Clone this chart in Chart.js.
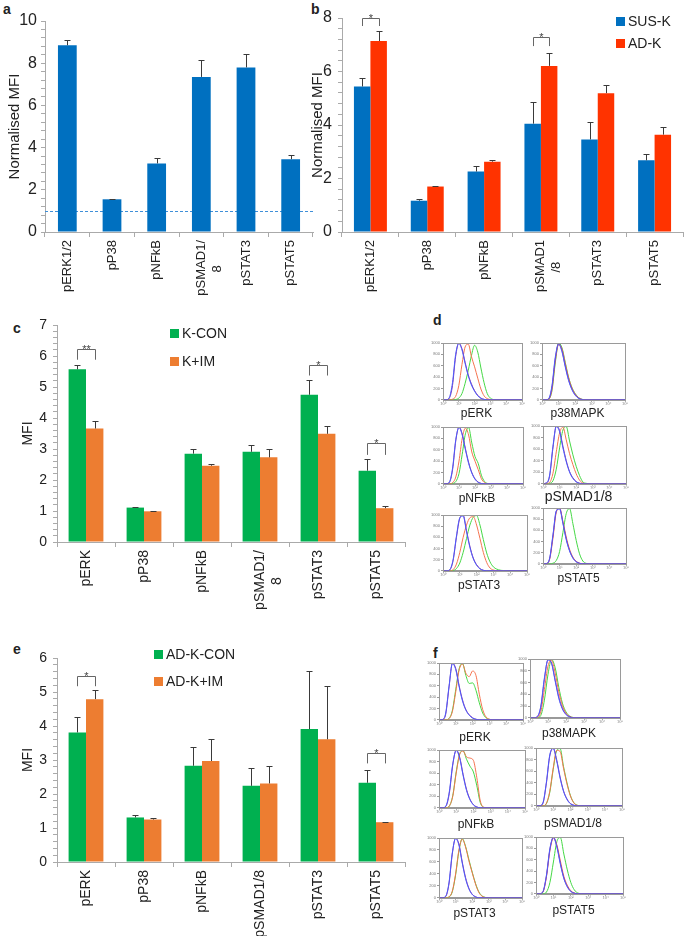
<!DOCTYPE html>
<html lang="en">
<head>
<meta charset="UTF-8">
<title>Phospho-signalling MFI</title>
<script src="https://cdn.jsdelivr.net/npm/chart.js"></script>
<style>
  body { margin: 0; background: #fff; }
  #page { position: relative; width: 685px; height: 936px; overflow: hidden;
          font-family: 'Liberation Sans', Arial, sans-serif; color: #222; }
  #page canvas { position: absolute; }
  .tag { position: absolute; font-weight: bold; font-size: 14px; line-height: 1; }
  .leg { position: absolute; height: 16px; display: flex; align-items: center;
         font-size: 14px; white-space: nowrap; }
  .leg i { display: inline-block; width: 9px; height: 9px; margin-right: 3px; }
</style>
</head>
<body>
<div id="page">
  <div class="tag" style="left:3px;top:2px">a</div>
  <div class="tag" style="left:311px;top:2px">b</div>
  <div class="tag" style="left:13px;top:321px">c</div>
  <div class="tag" style="left:433px;top:313px">d</div>
  <div class="tag" style="left:13px;top:642px">e</div>
  <div class="tag" style="left:433px;top:646px">f</div>
</div>

<script>
// panel a - normalised MFI, single series
const catsA = ['pERK1/2', 'pP38', 'pNFkB', ['pSMAD1/', '8       '], 'pSTAT3', 'pSTAT5'];
const normA = [8.85, 1.55, 3.25, 7.35, 7.80, 3.45];
const normAErr = [0.25, 0.03, 0.25, 0.80, 0.65, 0.20];
const baselineA = 1;

// panel b - SUS-K vs AD-K
const catsB = ['pERK1/2', 'pP38', 'pNFkB', ['pSMAD1', '/8      '], 'pSTAT3', 'pSTAT5'];
const susK = [5.44, 1.17, 2.26, 4.05, 3.46, 2.68];
const susKErr = [0.30, 0.05, 0.21, 0.80, 0.65, 0.25];
const adK = [7.14, 1.70, 2.63, 6.21, 5.19, 3.64];
const adKErr = [0.39, 0.03, 0.05, 0.47, 0.29, 0.30];
const starsB = [{ i: 0, top: 8.0, leg: 7.7, t: '*' }, { i: 3, top: 7.28, leg: 6.95, t: '*' }];

// panel c - K-CON vs K+IM
const catsC = ['pERK', 'pP38', 'pNFkB', ['pSMAD1/', '8       '], 'pSTAT3', 'pSTAT5'];
const kCon = [5.57, 1.11, 2.85, 2.91, 4.75, 2.30];
const kConErr = [0.14, 0.03, 0.16, 0.22, 0.47, 0.38];
const kIm = [3.66, 0.99, 2.46, 2.73, 3.49, 1.09];
const kImErr = [0.25, 0.02, 0.06, 0.26, 0.24, 0.06];
const starsC = [{ i: 0, top: 6.22, leg: 5.88, t: '**' }, { i: 4, top: 5.71, leg: 5.37, t: '*' }, { i: 5, top: 3.18, leg: 2.81, t: '*' }];

// panel e - AD-K-CON vs AD-K+IM
const catsE = ['pERK', 'pP38', 'pNFkB', 'pSMAD1/8', 'pSTAT3', 'pSTAT5'];
const adCon = [3.81, 1.31, 2.83, 2.24, 3.91, 2.33];
const adConErr = [0.45, 0.08, 0.55, 0.52, 1.71, 0.38];
const adIm = [4.79, 1.25, 2.97, 2.31, 3.61, 1.17];
const adImErr = [0.27, 0.04, 0.66, 0.51, 1.58, 0.02];
const starsE = [{ i: 0, top: 5.48, leg: 5.17, t: '*' }, { i: 5, top: 3.2, leg: 2.9, t: '*' }];

// flow histograms (d, f): x = log10 fluorescence, y = counts (0-1000)
const histX = [0, 0.2, 0.4, 0.6, 0.8, 1.0, 1.2, 1.4, 1.6, 1.8, 2.0, 2.2, 2.4, 2.6, 2.8, 3.0, 3.2, 3.6, 5];
const histTitles = ['pERK', 'p38MAPK', 'pNFkB', 'pSMAD1/8', 'pSTAT3', 'pSTAT5'];
// curves per histogram: [blue, purple, red, green]
const dERK = [
  [0, 0, 40, 300, 800, 990, 880, 640, 420, 260, 150, 70, 25, 6, 0, 0, 0, 0, 0],
  [0, 0, 30, 250, 760, 1000, 900, 660, 440, 280, 160, 80, 30, 8, 0, 0, 0, 0, 0],
  [0, 0, 0, 10, 60, 250, 620, 930, 980, 760, 580, 380, 190, 70, 20, 5, 0, 0, 0],
  [0, 0, 0, 0, 5, 30, 110, 290, 520, 780, 960, 840, 560, 300, 110, 30, 5, 0, 0]];
const dP38 = [
  [0, 0, 20, 250, 750, 980, 850, 580, 340, 180, 80, 25, 5, 0, 0, 0, 0, 0, 0],
  [0, 0, 15, 220, 720, 990, 870, 600, 360, 190, 90, 30, 6, 0, 0, 0, 0, 0, 0],
  [0, 0, 10, 180, 680, 970, 900, 640, 390, 210, 100, 35, 8, 0, 0, 0, 0, 0, 0],
  [0, 0, 10, 160, 650, 1000, 920, 660, 400, 220, 110, 40, 10, 0, 0, 0, 0, 0, 0]];
const dNFKB = [
  [0, 0, 30, 280, 780, 990, 860, 600, 360, 190, 80, 25, 5, 0, 0, 0, 0, 0, 0],
  [0, 0, 25, 250, 760, 1000, 880, 620, 380, 200, 90, 30, 6, 0, 0, 0, 0, 0, 0],
  [0, 0, 0, 20, 120, 400, 800, 980, 860, 560, 400, 250, 90, 20, 0, 0, 0, 0, 0],
  [0, 0, 0, 5, 40, 180, 520, 880, 990, 720, 480, 360, 150, 40, 5, 0, 0, 0, 0]];
const dSMAD = [
  [0, 10, 150, 650, 990, 900, 620, 380, 200, 90, 30, 5, 0, 0, 0, 0, 0, 0, 0],
  [0, 8, 130, 620, 1000, 920, 650, 400, 210, 100, 35, 6, 0, 0, 0, 0, 0, 0, 0],
  [0, 0, 20, 180, 550, 880, 980, 760, 520, 330, 170, 60, 10, 0, 0, 0, 0, 0, 0],
  [0, 0, 5, 50, 250, 620, 930, 990, 740, 500, 300, 140, 30, 5, 0, 0, 0, 0, 0]];
const dSTAT3 = [
  [0, 0, 20, 200, 620, 950, 980, 700, 420, 220, 100, 35, 8, 0, 0, 0, 0, 0, 0],
  [0, 0, 15, 180, 600, 940, 1000, 720, 440, 230, 110, 40, 10, 0, 0, 0, 0, 0, 0],
  [0, 0, 0, 20, 120, 330, 600, 820, 950, 970, 820, 580, 330, 150, 50, 15, 0, 0, 0],
  [0, 0, 0, 5, 40, 140, 330, 580, 820, 960, 990, 820, 560, 320, 160, 70, 30, 5, 0]];
const dSTAT5 = [
  [0, 5, 100, 520, 950, 980, 720, 430, 230, 100, 35, 8, 0, 0, 0, 0, 0, 0, 0],
  [0, 4, 90, 500, 940, 1000, 740, 450, 240, 110, 40, 10, 0, 0, 0, 0, 0, 0, 0],
  [0, 3, 80, 460, 920, 990, 760, 480, 260, 120, 45, 12, 0, 0, 0, 0, 0, 0, 0],
  [0, 0, 0, 10, 60, 220, 560, 900, 990, 720, 420, 180, 50, 8, 0, 0, 0, 0, 0]];
const fERK = [
  [0, 5, 120, 600, 990, 880, 580, 330, 170, 80, 30, 8, 0, 0, 0, 0, 0, 0, 0],
  [0, 4, 100, 580, 1000, 900, 600, 350, 180, 90, 35, 10, 0, 0, 0, 0, 0, 0, 0],
  [0, 0, 0, 20, 150, 500, 880, 980, 820, 760, 860, 780, 450, 180, 50, 10, 0, 0, 0],
  [0, 0, 0, 25, 170, 540, 900, 990, 780, 640, 650, 520, 300, 120, 35, 8, 0, 0, 0]];
const fP38 = [
  [0, 0, 20, 200, 680, 980, 920, 620, 330, 150, 55, 15, 0, 0, 0, 0, 0, 0, 0],
  [0, 0, 15, 180, 650, 990, 930, 640, 350, 160, 60, 18, 0, 0, 0, 0, 0, 0, 0],
  [0, 0, 5, 100, 480, 880, 980, 760, 440, 210, 80, 25, 3, 0, 0, 0, 0, 0, 0],
  [0, 0, 0, 40, 300, 740, 990, 850, 520, 250, 100, 30, 5, 0, 0, 0, 0, 0, 0]];
const fNFKB = [
  [0, 0, 30, 280, 760, 990, 860, 560, 300, 140, 50, 12, 0, 0, 0, 0, 0, 0, 0],
  [0, 0, 25, 250, 740, 1000, 880, 580, 320, 150, 55, 15, 0, 0, 0, 0, 0, 0, 0],
  [0, 0, 0, 30, 200, 600, 920, 980, 880, 860, 820, 520, 120, 10, 0, 0, 0, 0, 0],
  [0, 0, 0, 30, 210, 620, 930, 990, 840, 720, 620, 380, 90, 8, 0, 0, 0, 0, 0]];
const fSMAD = [
  [0, 0, 50, 400, 880, 990, 780, 480, 250, 110, 35, 8, 0, 0, 0, 0, 0, 0, 0],
  [0, 0, 40, 380, 860, 1000, 800, 500, 260, 120, 40, 10, 0, 0, 0, 0, 0, 0, 0],
  [0, 0, 0, 40, 250, 650, 960, 940, 650, 380, 170, 50, 8, 0, 0, 0, 0, 0, 0],
  [0, 0, 0, 35, 230, 630, 950, 990, 680, 400, 180, 55, 10, 0, 0, 0, 0, 0, 0]];
const fSTAT3 = [
  [0, 0, 25, 250, 750, 990, 880, 580, 320, 150, 55, 15, 0, 0, 0, 0, 0, 0, 0],
  [0, 0, 20, 230, 730, 1000, 900, 600, 340, 160, 60, 18, 0, 0, 0, 0, 0, 0, 0],
  [0, 0, 0, 15, 110, 400, 800, 980, 850, 620, 420, 230, 90, 25, 5, 0, 0, 0, 0],
  [0, 0, 0, 12, 100, 380, 780, 990, 860, 640, 430, 240, 100, 30, 6, 0, 0, 0, 0]];
const fSTAT5 = [
  [0, 0, 40, 330, 800, 990, 820, 520, 270, 120, 40, 10, 0, 0, 0, 0, 0, 0, 0],
  [0, 0, 35, 310, 780, 1000, 840, 540, 280, 130, 45, 12, 0, 0, 0, 0, 0, 0, 0],
  [0, 0, 30, 300, 760, 980, 860, 580, 310, 150, 55, 15, 0, 0, 0, 0, 0, 0, 0],
  [0, 0, 0, 30, 200, 560, 920, 990, 700, 420, 200, 70, 15, 0, 0, 0, 0, 0, 0]];

const histColors = ['#4b5bff', '#8a3ca6', '#f5734f', '#45d845'];
const supDigits = ['\u2070', '\u00b9', '\u00b2', '\u00b3', '\u2074', '\u2075'];

Chart.defaults.font.family = "'Liberation Sans', Arial, sans-serif";
Chart.defaults.color = '#222';

const page = document.getElementById('page');

function makeCanvas(left, top, w, h) {
  const cv = document.createElement('canvas');
  cv.width = w; cv.height = h;
  cv.style.left = left + 'px'; cv.style.top = top + 'px';
  cv.style.width = w + 'px'; cv.style.height = h + 'px';
  page.appendChild(cv);
  return cv;
}

// plus-only error bars, like the Excel ones
const errorBars = {
  id: 'errorBars',
  afterDatasetsDraw(chart) {
    const ctx = chart.ctx, y = chart.scales.y;
    ctx.save();
    ctx.strokeStyle = '#3a3a3a';
    ctx.lineWidth = 1;
    chart.data.datasets.forEach((ds, di) => {
      if (!ds.err) return;
      chart.getDatasetMeta(di).data.forEach((bar, i) => {
        const yTop = Math.round(y.getPixelForValue(ds.data[i] + ds.err[i])) + 0.5;
        const x = Math.round(bar.x) + 0.5;
        ctx.beginPath();
        ctx.moveTo(x, bar.y);
        ctx.lineTo(x, yTop);
        ctx.moveTo(x - 3, yTop);
        ctx.lineTo(x + 3, yTop);
        ctx.stroke();
      });
    });
    ctx.restore();
  }
};

// significance brackets between the two bars of a group
const sigBrackets = {
  id: 'sigBrackets',
  afterDatasetsDraw(chart, args, opts) {
    if (!opts.items) return;
    const ctx = chart.ctx, y = chart.scales.y;
    const m0 = chart.getDatasetMeta(0), m1 = chart.getDatasetMeta(1);
    ctx.save();
    ctx.strokeStyle = '#666';
    ctx.fillStyle = '#444';
    ctx.lineWidth = 1;
    ctx.font = "11px 'Liberation Sans', Arial";
    ctx.textAlign = 'center';
    ctx.textBaseline = 'alphabetic';
    opts.items.forEach(b => {
      const x0 = Math.round(m0.data[b.i].x) + 0.5;
      const x1 = Math.round(m1.data[b.i].x) + 0.5;
      const yt = Math.round(y.getPixelForValue(b.top)) + 0.5;
      const yl = y.getPixelForValue(b.leg);
      ctx.beginPath();
      ctx.moveTo(x0, yl); ctx.lineTo(x0, yt); ctx.lineTo(x1, yt); ctx.lineTo(x1, yl);
      ctx.stroke();
      ctx.fillText(b.t, (x0 + x1) / 2, yt + 3);
    });
    ctx.restore();
  }
};

// dashed reference line (value 1) behind the bars
const refLine = {
  id: 'refLine',
  beforeDatasetsDraw(chart, args, opts) {
    if (opts.value == null) return;
    const { ctx, chartArea } = chart;
    const yp = Math.round(chart.scales.y.getPixelForValue(opts.value)) + 0.5;
    ctx.save();
    ctx.strokeStyle = opts.color;
    ctx.lineWidth = 1;
    ctx.setLineDash([3, 2]);
    ctx.beginPath();
    ctx.moveTo(chartArea.left, yp);
    ctx.lineTo(chartArea.right, yp);
    ctx.stroke();
    ctx.restore();
  }
};

// box around the histogram plot area
const frameBox = {
  id: 'frameBox',
  afterDraw(chart) {
    const { ctx, chartArea: a } = chart;
    ctx.save();
    ctx.strokeStyle = '#9a9a9a';
    ctx.lineWidth = 1;
    ctx.strokeRect(Math.round(a.left) + 0.5, Math.round(a.top) + 0.5, Math.round(a.width), Math.round(a.height));
    ctx.restore();
  }
};

function barChart(p) {
  const cv = makeCanvas(p.left, p.top, p.w, p.h);
  return new Chart(cv, {
    type: 'bar',
    data: {
      labels: p.cats,
      datasets: p.sets.map(s => ({
        label: s.label, data: s.data, err: s.err, backgroundColor: s.color,
        categoryPercentage: p.catPct, barPercentage: 1, borderWidth: 0
      }))
    },
    options: {
      responsive: false,
      animation: false,
      layout: { padding: { top: p.padTop, right: p.padRight, left: 0, bottom: 0 } },
      plugins: {
        legend: { display: false },
        tooltip: { enabled: false },
        sigBrackets: { items: p.brackets },
        refLine: { value: p.ref, color: '#3f8fd8' }
      },
      scales: {
        x: {
          offset: true,
          grid: { offset: true, drawOnChartArea: false, tickLength: 5, color: '#aaa' },
          border: { color: '#aaa' },
          ticks: { autoSkip: false, maxRotation: 90, minRotation: 90, padding: 3,
                   font: { size: p.catFont }, color: '#222' },
          afterFit: s => { s.height = p.xAxisH; }
        },
        y: {
          min: 0, max: p.yMax,
          grid: { drawOnChartArea: false, tickLength: 4, color: '#aaa' },
          border: { color: '#aaa' },
          ticks: {
            stepSize: p.yStep, autoSkip: false, padding: p.tickPad,
            font: { size: p.tickFont }, color: '#222',
            callback: v => {
              const r = Math.round(v);
              return Math.abs(v - r) < 1e-6 && r % p.labelEvery === 0 ? r : '';
            }
          },
          title: { display: true, text: p.yTitle, font: { size: p.titleFont }, color: '#222',
                   padding: { top: p.titlePad, bottom: 0 } },
          afterFit: s => { s.width = p.yAxisW; }
        }
      }
    },
    plugins: [refLine, errorBars, sigBrackets]
  });
}

function htmlLegend(chart, left, centers, size) {
  chart.data.datasets.forEach((ds, k) => {
    const row = document.createElement('div');
    row.className = 'leg';
    row.style.left = left + 'px';
    row.style.top = (centers[k] - 8) + 'px';
    row.style.fontSize = size + 'px';
    const sw = document.createElement('i');
    sw.style.background = ds.backgroundColor;
    row.appendChild(sw);
    row.appendChild(document.createTextNode(ds.label));
    page.appendChild(row);
  });
}

barChart({
  left: 0, top: 0, w: 335, h: 300, yAxisW: 45, padTop: 21, padRight: 22, xAxisH: 68,
  yMax: 10, yStep: 0.4, labelEvery: 2, tickFont: 16, tickPad: 4, catFont: 13,
  yTitle: 'Normalised MFI', titleFont: 15, titlePad: 6, catPct: 0.42, ref: baselineA,
  cats: catsA,
  sets: [{ label: 'Normalised MFI', data: normA, err: normAErr, color: '#0070c0' }]
});

const chartB = barChart({
  left: 300, top: 0, w: 385, h: 300, yAxisW: 42, padTop: 18, padRight: 2, xAxisH: 68,
  yMax: 8, yStep: 0.4, labelEvery: 2, tickFont: 16, tickPad: 6, catFont: 13,
  yTitle: 'Normalised MFI', titleFont: 15, titlePad: 9, catPct: 0.58,
  cats: catsB, brackets: starsB,
  sets: [
    { label: 'SUS-K', data: susK, err: susKErr, color: '#0070c0' },
    { label: 'AD-K', data: adK, err: adKErr, color: '#ff3300' }
  ]
});
htmlLegend(chartB, 616, [21, 43], 14);

const chartC = barChart({
  left: 0, top: 300, w: 430, h: 320, yAxisW: 57, padTop: 25, padRight: 25, xAxisH: 78,
  yMax: 7, yStep: 0.2, labelEvery: 1, tickFont: 14, tickPad: 6, catFont: 14,
  yTitle: 'MFI', titleFont: 14, titlePad: 20, catPct: 0.6,
  cats: catsC, brackets: starsC,
  sets: [
    { label: 'K-CON', data: kCon, err: kConErr, color: '#00b050' },
    { label: 'K+IM', data: kIm, err: kImErr, color: '#ed7d31' }
  ]
});
htmlLegend(chartC, 170, [333, 361], 14);

const chartE = barChart({
  left: 0, top: 620, w: 430, h: 316, yAxisW: 57, padTop: 38, padRight: 25, xAxisH: 74,
  yMax: 6, yStep: 0.2, labelEvery: 1, tickFont: 14, tickPad: 6, catFont: 14,
  yTitle: 'MFI', titleFont: 14, titlePad: 20, catPct: 0.6,
  cats: catsE, brackets: starsE,
  sets: [
    { label: 'AD-K-CON', data: adCon, err: adConErr, color: '#00b050' },
    { label: 'AD-K+IM', data: adIm, err: adImErr, color: '#ed7d31' }
  ]
});
htmlLegend(chartE, 154, [654, 681], 14);

// histogram boxes: [left, top, right, bottom, title centre y, title size]
const boxesD = [
  [443, 343, 522, 399, 413, 12], [542, 343, 625, 399, 413, 12],
  [443, 427, 523, 483, 498, 12], [543, 426, 626, 483, 497, 14],
  [443, 515, 527, 570, 585, 12], [543, 508, 626, 563, 578, 12]];
const boxesF = [
  [439, 663, 523, 719, 737, 12], [530, 659, 620, 717, 733, 12],
  [439, 750, 525, 807, 824, 12], [536, 748, 622, 805, 823, 12],
  [439, 838, 522, 897, 913, 12], [536, 837, 623, 893, 910, 12]];

function histChart(box, title, curves) {
  const [x0, y0, x1, y1, ty, fs] = box;
  const yAxisW = 12, padTop = 4, padRight = 4, xAxisH = 5;
  const lh = fs * 1.2;
  const pt = Math.max(0, ty - y1 - xAxisH - lh / 2);
  const left = x0 - yAxisW, top = y0 - padTop;
  const w = x1 - x0 + yAxisW + padRight;
  const h = Math.round(y1 - top + xAxisH + pt + lh + 1);
  const cv = makeCanvas(left, top, w, h);
  return new Chart(cv, {
    type: 'line',
    data: {
      datasets: curves.map((c, k) => ({
        data: c.map((v, i) => ({ x: histX[i], y: v })),
        borderColor: histColors[k], borderWidth: 1, pointRadius: 0,
        cubicInterpolationMode: 'monotone', fill: false
      }))
    },
    options: {
      responsive: false,
      animation: false,
      layout: { padding: { top: padTop, right: padRight, left: 0, bottom: 0 } },
      plugins: {
        legend: { display: false },
        tooltip: { enabled: false },
        title: { display: true, position: 'bottom', text: title, color: '#222',
                 font: { size: fs, weight: 'normal' }, padding: { top: pt, bottom: 0 } }
      },
      scales: {
        x: {
          type: 'linear', min: 0, max: 5,
          grid: { drawOnChartArea: false, tickLength: 2, color: '#999' },
          border: { color: '#999' },
          ticks: { stepSize: 1, padding: 0, font: { size: 4 }, color: '#777',
                   callback: v => '10' + supDigits[v] },
          afterFit: s => { s.height = xAxisH; }
        },
        y: {
          min: 0, max: 1000,
          grid: { drawOnChartArea: false, tickLength: 2, color: '#999' },
          border: { color: '#999' },
          ticks: { stepSize: 200, padding: 1, font: { size: 4 }, color: '#777',
                   callback: v => String(v) },
          afterFit: s => { s.width = yAxisW; }
        }
      }
    },
    plugins: [frameBox]
  });
}

const histD = [dERK, dP38, dNFKB, dSMAD, dSTAT3, dSTAT5];
const histF = [fERK, fP38, fNFKB, fSMAD, fSTAT3, fSTAT5];
histD.forEach((h, k) => histChart(boxesD[k], histTitles[k], h));
histF.forEach((h, k) => histChart(boxesF[k], histTitles[k], h));
</script>
</body>
</html>
